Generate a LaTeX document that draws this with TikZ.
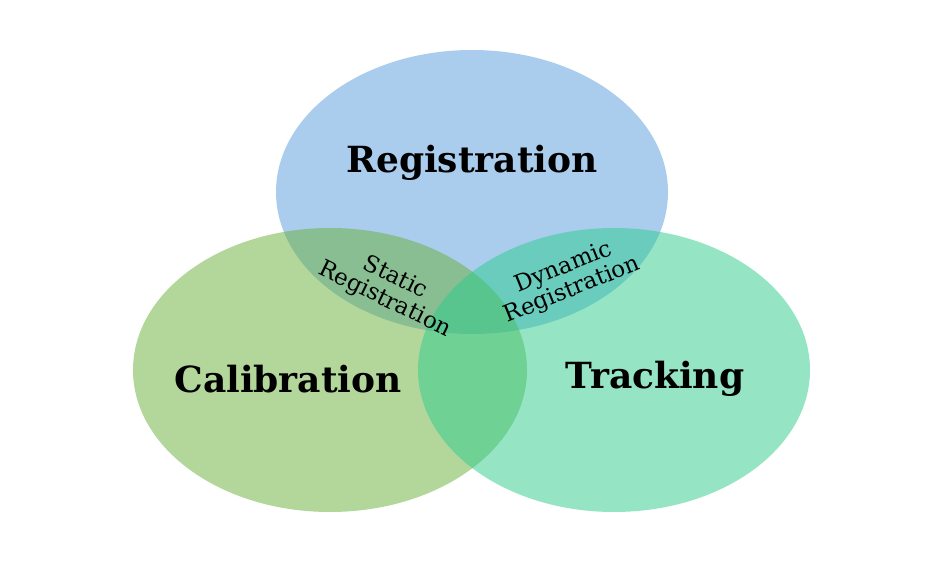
\documentclass[tikz,border=0pt]{standalone}
\usepackage{fontspec}
\newfontfamily\bigfont{DejaVu Serif}
\newfontfamily\smallfont{DejaVu Serif}
\definecolor{cblue}{RGB}{86,156,222}
\definecolor{cgreen}{RGB}{104,176,56}
\definecolor{cteal}{RGB}{44,204,140}
\tikzset{
  circ/.style={draw=none, fill opacity=0.5},
  bigtxt/.style={font=\bigfont\bfseries\fontsize{36}{38}\selectfont, inner sep=0pt},
  smalltxt/.style={font=\smallfont\fontsize{23}{24}\selectfont, align=center, inner sep=0pt}
}
\begin{document}
\begin{tikzpicture}[x=1pt,y=-1pt]
\useasboundingbox[fill=white] (0,0) rectangle (933,561);
\fill[circ, fill=cblue] (472,192) ellipse [x radius=196, y radius=142];
\fill[circ, fill=cgreen] (330,370) ellipse [x radius=197, y radius=142];
\fill[circ, fill=cteal] (614,370) ellipse [x radius=196, y radius=142];
\node[bigtxt] (reg) at (472,163) {Registration};
\node[bigtxt] (cal) at (288,379) {Calibration};
\node[bigtxt] (trk) at (655,379) {Tracking};
\node[smalltxt, rotate=-26] (sta) at (390,289) {Static\\Registration};
\node[smalltxt, rotate=22] (dyn) at (568,279) {Dynamic\\Registration};
\end{tikzpicture}
\end{document}
